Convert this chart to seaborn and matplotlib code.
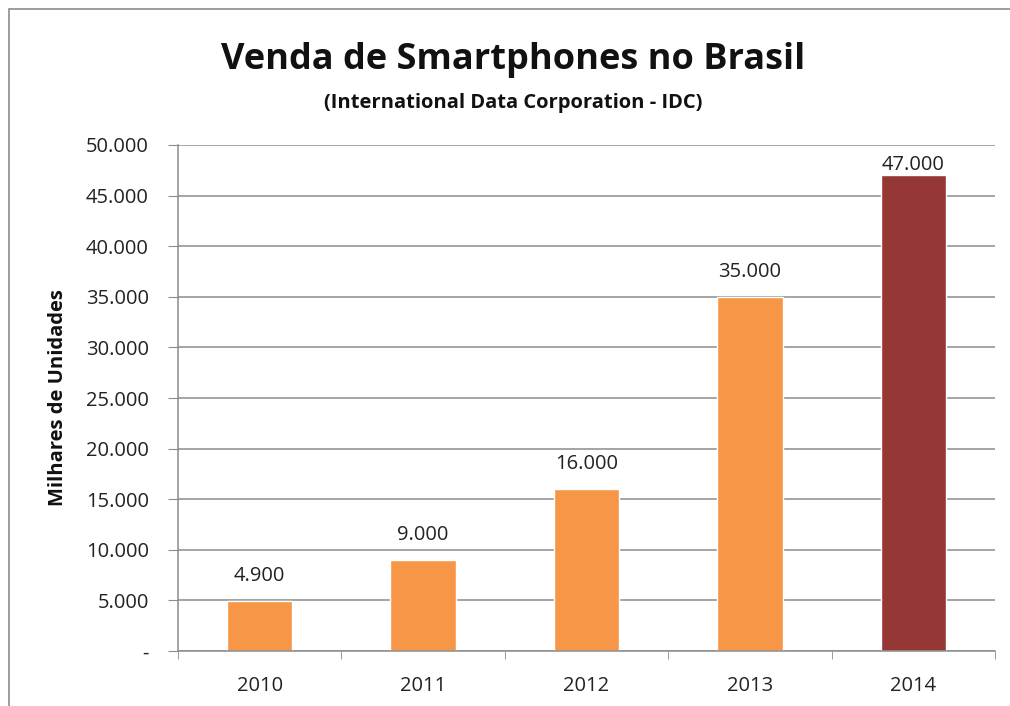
import matplotlib
matplotlib.use("Agg")
import matplotlib.pyplot as plt
import seaborn as sns
import pandas as pd
from matplotlib.patches import Rectangle

# data
anos = ["2010", "2011", "2012", "2013", "2014"]
vendas = [4900, 9000, 16000, 35000, 47000]
cores = ["#F79646", "#F79646", "#F79646", "#F79646", "#953735"]

df = pd.DataFrame({"ano": anos, "vendas": vendas})

sns.set_style("white")
plt.rcParams["font.family"] = ["Open Sans", "DejaVu Sans"]

fig = plt.figure(figsize=(10.1, 7.06), dpi=100)
ax = fig.add_axes([178 / 1010, 1 - 651 / 706, 817 / 1010, 506 / 706])

sns.barplot(data=df, x="ano", y="vendas", hue="ano", palette=cores,
            legend=False, width=0.4, saturation=1, ax=ax)

ymax = 50000
ax.set_xlim(-0.5, 4.5)
ax.set_ylim(0, ymax)
ax.set_yticks(range(0, ymax + 1, 5000))
ax.set_yticklabels(["-"] + [f"{v:,}".replace(",", ".") for v in range(5000, ymax + 1, 5000)])
ax.yaxis.grid(True, color="#8c8c8c", linewidth=1.1)
ax.set_axisbelow(True)
ax.set_xlabel("")
ax.set_ylabel("Milhares de Unidades", fontsize=14.5, fontweight="bold", labelpad=13,
              color="#111111")

for s in ["top", "right"]:
    ax.spines[s].set_visible(False)
for s in ["left", "bottom"]:
    ax.spines[s].set_color("#8c8c8c")
    ax.spines[s].set_linewidth(1.1)

# x ticks at category boundaries like Excel
ax.set_xticks([i - 0.5 for i in range(6)], minor=True)
ax.tick_params(axis="x", which="minor", length=6, color="#8c8c8c", direction="out", bottom=True)
ax.tick_params(axis="x", which="major", length=0, labelsize=14.5, pad=18, colors="#222222")
ax.tick_params(axis="y", length=7, color="#8c8c8c", direction="out", left=True,
               labelsize=14.5, pad=14, colors="#222222")

for i, v in enumerate(vendas):
    y = v + 1500
    if y + 2000 > ymax:
        y = v
    ax.text(i, y, f"{v:,}".replace(",", "."), ha="center", va="bottom",
            fontsize=14.5, color="#222222")

fig.text(513 / 1010, 1 - 60 / 706, "Venda de Smartphones no Brasil",
         ha="center", va="center", fontsize=26, fontweight="bold", color="#111111")
fig.text(513 / 1010, 1 - 103 / 706, "(International Data Corporation - IDC)",
         ha="center", va="center", fontsize=14.5, fontweight="bold", color="#111111")

# outer chart border
fig.patches.append(Rectangle((9 / 1010, -0.01), 1.02, 1 - 9 / 706 + 0.01,
                             transform=fig.transFigure, fill=False,
                             edgecolor="#8c8c8c", linewidth=1.2))

fig.savefig("out.png", dpi=100)
